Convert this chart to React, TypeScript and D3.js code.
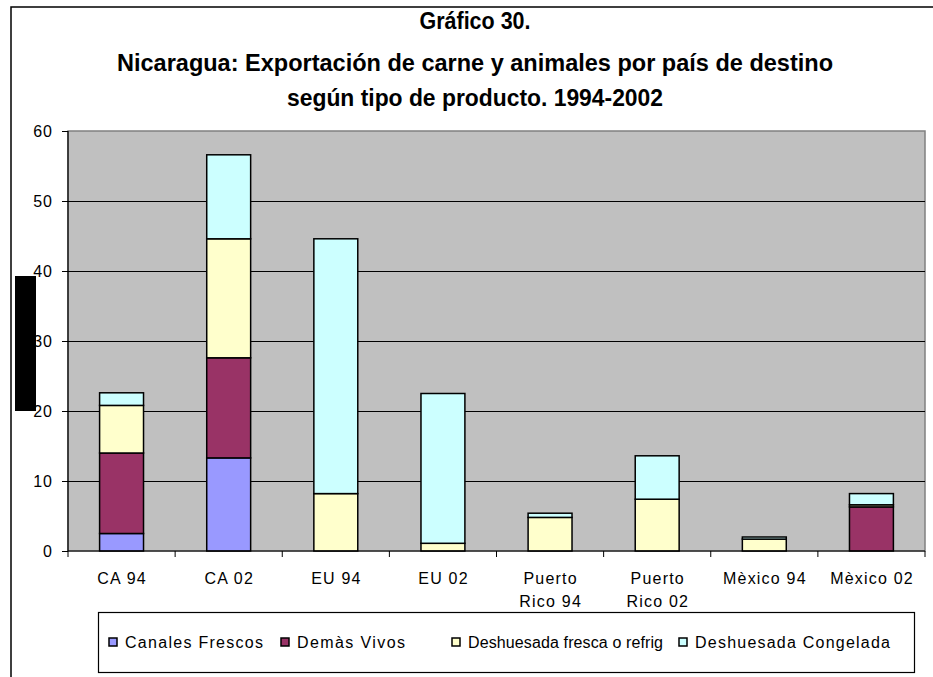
import { useEffect, useRef } from 'react'
import * as d3 from 'd3'

// Categories (country + year) and the four product series
const categories = ['CA 94', 'CA 02', 'EU 94', 'EU 02', 'Puerto Rico 94', 'Puerto Rico 02', 'Mèxico 94', 'Mèxico 02']
const categoryLabels = [['CA 94'], ['CA 02'], ['EU 94'], ['EU 02'], ['Puerto', 'Rico 94'], ['Puerto', 'Rico 02'], ['Mèxico 94'], ['Mèxico 02']]
const seriesNames = ['Canales Frescos', 'Demàs Vivos', 'Deshuesada fresca o refrig', 'Deshuesada Congelada']
const canales = [2.5, 13.3, 0, 0, 0, 0, 0, 0]
const demas = [11.5, 14.3, 0, 0, 0, 0, 0, 6.3]
const fresca = [6.8, 17.0, 8.2, 1.1, 4.8, 7.4, 1.7, 0.3]
const congelada = [1.8, 12.0, 36.4, 21.4, 0.6, 6.2, 0.3, 1.6]
const yTicks = [0, 10, 20, 30, 40, 50, 60]
const colors = ['#9999FF', '#993366', '#FFFFCC', '#CCFFFF']
const titleLines = [
	'Gráfico 30.',
	'Nicaragua: Exportación de carne y animales por país de destino',
	'según tipo de producto. 1994-2002',
]

const App = () => {
	const svgRef = useRef(null)

	useEffect(() => {
		const W = 933
		const H = 677
		const plot = { left: 68, right: 925, top: 131, bottom: 551 }
		const font = '"Liberation Sans", Arial, sans-serif'

		const svg = d3.select(svgRef.current)
		svg.selectAll('*').remove()
		svg.attr('width', W).attr('height', H)

		svg.append('rect').attr('width', W).attr('height', H).attr('fill', '#fff')

		// outer chart border (left + top visible)
		svg.append('path')
			.attr('d', `M11,${H} L11,7 L${W},7`)
			.attr('fill', 'none')
			.attr('stroke', '#000')
			.attr('stroke-width', 1.5)

		// title
		const titleY = [29, 71, 106]
		const titleW = [111, 716, 376]
		titleLines.forEach((t, i) => {
			svg.append('text')
				.attr('x', 475)
				.attr('y', titleY[i])
				.attr('text-anchor', 'middle')
				.attr('font-family', '"Liberation Sans Narrow", "Arial Narrow", "Liberation Sans", Arial, sans-serif')
				.attr('font-weight', 'bold')
				.attr('font-size', 23)
				.attr('textLength', titleW[i])
				.attr('lengthAdjust', 'spacingAndGlyphs')
				.attr('fill', '#000')
				.text(t)
		})

		// scales
		const x = d3.scaleBand().domain(categories).range([plot.left, plot.right]).padding(0)
		const y = d3.scaleLinear().domain([0, 60]).range([plot.bottom, plot.top])
		const barW = x.bandwidth() * 0.41

		// plot area
		svg.append('rect')
			.attr('x', plot.left)
			.attr('y', plot.top)
			.attr('width', plot.right - plot.left)
			.attr('height', plot.bottom - plot.top)
			.attr('fill', '#C0C0C0')
			.attr('stroke', '#808080')
			.attr('stroke-width', 1.5)

		// gridlines
		svg.append('g')
			.selectAll('line')
			.data(yTicks.filter((d) => d > 0 && d < 60))
			.enter()
			.append('line')
			.attr('x1', plot.left)
			.attr('x2', plot.right)
			.attr('y1', (d) => y(d) + 0.5)
			.attr('y2', (d) => y(d) + 0.5)
			.attr('stroke', '#000')
			.attr('stroke-width', 1)

		// stacked bars
		const table = categories.map((c, i) => ({
			cat: c,
			s0: canales[i],
			s1: demas[i],
			s2: fresca[i],
			s3: congelada[i],
		}))
		const stack = d3.stack().keys(['s0', 's1', 's2', 's3'])(table)

		stack.forEach((layer, li) => {
			svg.append('g')
				.selectAll('rect')
				.data(layer.filter((d) => d[1] - d[0] > 0))
				.enter()
				.append('rect')
				.attr('x', (d) => x(d.data.cat) + (x.bandwidth() - barW) / 2)
				.attr('width', barW)
				.attr('y', (d) => y(d[1]))
				.attr('height', (d) => y(d[0]) - y(d[1]))
				.attr('fill', colors[li])
				.attr('stroke', '#000')
				.attr('stroke-width', 1.5)
		})

		// y axis
		svg.append('line')
			.attr('x1', plot.left).attr('x2', plot.left)
			.attr('y1', plot.top).attr('y2', plot.bottom)
			.attr('stroke', '#000').attr('stroke-width', 1.2)
		const yAxis = svg.append('g')
		yAxis.selectAll('line')
			.data(yTicks)
			.enter()
			.append('line')
			.attr('x1', plot.left - 6)
			.attr('x2', plot.left)
			.attr('y1', (d) => y(d) + 0.5)
			.attr('y2', (d) => y(d) + 0.5)
			.attr('stroke', '#000')
		yAxis.selectAll('text')
			.data(yTicks)
			.enter()
			.append('text')
			.attr('x', 53)
			.attr('y', (d) => y(d))
			.attr('dy', '0.36em')
			.attr('text-anchor', 'end')
			.attr('font-family', font)
			.attr('font-size', 16)
			.attr('letter-spacing', 1)
			.text((d) => d)

		// x axis
		svg.append('line')
			.attr('x1', plot.left).attr('x2', plot.right)
			.attr('y1', plot.bottom).attr('y2', plot.bottom)
			.attr('stroke', '#000').attr('stroke-width', 1.2)
		const edges = categories.map((c) => x(c)).concat([plot.right])
		svg.append('g')
			.selectAll('line')
			.data(edges)
			.enter()
			.append('line')
			.attr('x1', (d) => d)
			.attr('x2', (d) => d)
			.attr('y1', plot.bottom)
			.attr('y2', plot.bottom + 6)
			.attr('stroke', '#000')

		categories.forEach((c, i) => {
			const t = svg.append('text')
				.attr('text-anchor', 'middle')
				.attr('font-family', font)
				.attr('font-size', 16)
				.attr('letter-spacing', 1.2)
			categoryLabels[i].forEach((line, j) => {
				t.append('tspan')
					.attr('x', x(c) + x.bandwidth() / 2 + 0.6)
					.attr('y', 584 + j * 23)
					.text(line)
			})
		})

		// legend
		svg.append('rect')
			.attr('x', 98.5)
			.attr('y', 612.5)
			.attr('width', 816)
			.attr('height', 60)
			.attr('fill', '#fff')
			.attr('stroke', '#000')
			.attr('stroke-width', 1.2)
		const legendX = [109, 281, 452, 679]
		const legendW = [138, 108, 195, 195]
		seriesNames.forEach((name, i) => {
			svg.append('rect')
				.attr('x', legendX[i])
				.attr('y', 638)
				.attr('width', 8)
				.attr('height', 8)
				.attr('fill', colors[i])
				.attr('stroke', '#000')
				.attr('stroke-width', 1.5)
			svg.append('text')
				.attr('x', legendX[i] + 16)
				.attr('y', 648)
				.attr('font-family', font)
				.attr('font-size', 16)
				.attr('textLength', legendW[i])
				.attr('lengthAdjust', 'spacing')
				.text(name)
		})

		// black block over the axis title area
		svg.append('rect')
			.attr('x', 15)
			.attr('y', 276)
			.attr('width', 21)
			.attr('height', 135)
			.attr('fill', '#000')
	}, [])

	return <svg ref={svgRef} style={{ position: 'absolute', left: 0, top: 0 }}></svg>
}

export default App
